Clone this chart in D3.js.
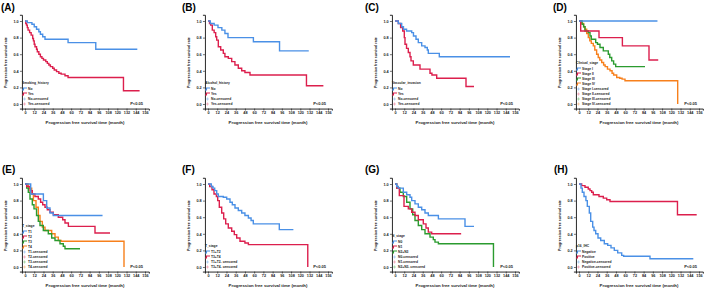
<!DOCTYPE html>
<html>
<head>
<meta charset="utf-8">
<script src="https://cdn.jsdelivr.net/npm/d3@7"></script>
<style>
  body { margin: 0; background: #fff; }
  svg { display: block; font-family: "Liberation Sans", Arial, sans-serif; }
</style>
</head>
<body>
<div id="chart"></div>
<script>
// ---- survival curves, [month, survival rate] ----
const smokingNo  = [[0,1],[3,0.98],[9,0.96],[12,0.93],[15,0.9],[18,0.87],[20,0.84],[23,0.81],[26,0.78],[56,0.74],[92,0.66],[146,0.66]];
const smokingYes = [[0,1],[1,0.97],[2,0.95],[3,0.92],[4,0.89],[6,0.86],[8,0.83],[10,0.79],[11,0.76],[12,0.72],[13,0.69],[15,0.66],[16,0.63],[18,0.6],[20,0.57],[22,0.55],[24,0.53],[27,0.51],[29,0.49],[31,0.47],[33,0.45],[36,0.43],[38,0.41],[41,0.39],[44,0.37],[47,0.36],[52,0.34],[56,0.32],[128,0.16],[149,0.16]];

const alcoholNo  = [[0,1],[3,0.97],[8,0.95],[13,0.92],[18,0.89],[22,0.85],[26,0.8],[59,0.75],[93,0.64],[131,0.64]];
const alcoholYes = [[0,1],[2,0.97],[3.5,0.95],[5.6,0.89],[8,0.86],[10,0.81],[11.3,0.77],[13.4,0.69],[16.5,0.65],[19.9,0.61],[22,0.57],[26.4,0.55],[30.8,0.51],[35,0.47],[39.4,0.43],[43.8,0.4],[48,0.38],[54.6,0.35],[128,0.22],[150,0.22]];

const vascularNo  = [[0,1],[4.3,0.97],[8.7,0.93],[11,0.9],[15,0.88],[21.7,0.86],[24,0.82],[27.3,0.78],[30.3,0.74],[34.7,0.7],[39,0.68],[42,0.65],[43.3,0.61],[57.6,0.57],[149.5,0.57]];
const vascularYes = [[0,1],[4.3,0.97],[7.3,0.92],[10,0.88],[12.1,0.8],[13,0.72],[15,0.67],[17.3,0.62],[19.5,0.57],[20.8,0.52],[23.8,0.47],[32.5,0.42],[45.5,0.37],[48,0.35],[54.2,0.31],[92.3,0.21],[102.7,0.21]];

const stageI   = [[0,1],[102,1]];
const stageII  = [[0,1],[2.2,0.88],[26,0.8],[56.4,0.7],[91,0.53],[103,0.53]];
const stageIII = [[0,1],[4,0.96],[6,0.93],[7.8,0.88],[12,0.86],[14.3,0.82],[16,0.78],[21.7,0.74],[24,0.72],[27.3,0.68],[31.6,0.64],[38.1,0.6],[40,0.56],[42.5,0.52],[45,0.48],[47.7,0.45],[85.8,0.45]];
const stageIV  = [[0,1],[3.5,0.97],[6,0.93],[7.8,0.9],[10,0.85],[12.1,0.8],[14,0.76],[16,0.73],[18.6,0.7],[20.5,0.65],[22.9,0.6],[25,0.56],[27,0.53],[29.5,0.5],[32,0.47],[34,0.45],[37,0.42],[40.3,0.4],[43,0.37],[45,0.35],[49,0.32],[53,0.31],[56,0.3],[59.8,0.28],[128.3,0]];

const tStage1 = [[0,1],[7.4,0.88],[23.9,0.8],[28.2,0.71],[32.5,0.65],[36.8,0.62],[100.8,0.62]];
const tStage2 = [[0,1],[2.2,0.97],[6.5,0.92],[9.5,0.88],[12.9,0.85],[17.3,0.82],[20.3,0.78],[23,0.75],[26,0.72],[29,0.69],[32.5,0.66],[36.8,0.63],[43.3,0.6],[49,0.57],[52,0.53],[56.4,0.49],[91,0.41],[110.5,0.41]];
const tStage3 = [[0,1],[2.2,0.95],[4.3,0.9],[6.5,0.82],[9.5,0.75],[11.7,0.7],[15,0.62],[17.3,0.55],[19.5,0.5],[23.8,0.44],[30.3,0.4],[34.7,0.35],[39,0.32],[45.5,0.28],[49.8,0.25],[52,0.22],[71.5,0.22]];
const tStage4 = [[0,1],[4.3,0.95],[8.7,0.88],[10.9,0.8],[14.3,0.72],[17.3,0.62],[19.5,0.55],[22.5,0.48],[26,0.44],[34.7,0.4],[39,0.36],[43.3,0.32],[47,0.31],[128.7,0]];

const tEarly = [[0,1],[4.3,0.97],[6.5,0.95],[8.7,0.92],[11.3,0.88],[13.4,0.85],[19.9,0.84],[24.3,0.82],[28.6,0.78],[31.6,0.75],[35.1,0.71],[39.4,0.68],[43.8,0.65],[48,0.62],[52.5,0.59],[56,0.56],[58.9,0.52],[92.7,0.45],[111,0.45]];
const tLate  = [[0,1],[2.2,0.97],[5.2,0.93],[7.8,0.88],[10.9,0.85],[12.6,0.8],[14.7,0.72],[17.8,0.65],[20.4,0.58],[23,0.52],[26.4,0.47],[30.8,0.43],[34.2,0.39],[37.3,0.35],[41.6,0.31],[48,0.29],[52.5,0.27],[129.7,0]];

const nStage0  = [[0,1],[2.2,0.97],[4.3,0.95],[10.8,0.9],[15.2,0.87],[19.5,0.84],[21.7,0.8],[26,0.76],[30.3,0.72],[34.7,0.69],[39,0.65],[43.3,0.62],[56.4,0.58],[91,0.49],[102.7,0.49]];
const nStage1  = [[0,1],[2.2,0.95],[5.6,0.86],[11.7,0.73],[17.3,0.7],[21.7,0.66],[26,0.62],[30.3,0.57],[36.8,0.52],[40.3,0.47],[43.3,0.42],[47.7,0.4],[86,0.4]];
const nStage23 = [[0,1],[2.2,0.95],[6.5,0.9],[10.8,0.85],[15.2,0.78],[19.5,0.7],[23,0.63],[26,0.56],[30.3,0.5],[34.7,0.45],[39,0.4],[45.5,0.36],[49.8,0.33],[52,0.3],[56.4,0.28],[128,0]];

const p16Neg = [[0,1],[2.6,0.95],[4.3,0.9],[6.5,0.85],[9,0.8],[10.8,0.73],[13.4,0.65],[15.2,0.55],[17.8,0.48],[19.5,0.44],[21.7,0.4],[24.7,0.35],[28.2,0.32],[32.9,0.28],[37.3,0.26],[41.6,0.23],[45.9,0.2],[50.3,0.17],[55.5,0.14],[58,0.13],[92.3,0.1],[148.6,0.1]];
const p16Pos = [[0,1],[3.5,0.98],[7.8,0.96],[12,0.94],[14.3,0.92],[16.5,0.9],[18.6,0.87],[26,0.85],[31.6,0.83],[36,0.81],[40.3,0.79],[128,0.63],[153,0.63]];

// ---- labels ----
const panelTags    = ["(A)","(B)","(C)","(D)","(E)","(F)","(G)","(H)"];
const legendTitles = ["Smoking_history","Alcohol_history","Vascular_invasion","Clinical_stage","T_stage","T_stage","N_stage","p16_IHC"];
const groupNames = [
  ["No","Yes"], ["No","Yes"], ["No","Yes"],
  ["Stage I","Stage II","Stage III","Stage IV"],
  ["T1","T2","T3","T4"],
  ["T1+T2","T3+T4"],
  ["N0","N1","N2+N3"],
  ["Negative","Positive"]
];
const censoredNames = [
  ["No-censored","Yes-censored"], ["No-censored","Yes-censored"], ["No-censored","Yes-censored"],
  ["Stage I-censored","Stage II-censored","Stage III-censored","Stage IV-censored"],
  ["T1-censored","T2-censored","T3-censored","T4-censored"],
  ["T1+T2- censored","T3+T4- censored"],
  ["N0-censored","N1-censored","N2+N3- censored"],
  ["Negative-censored","Positive-censored"]
];
const panelCurves = [
  [smokingNo, smokingYes], [alcoholNo, alcoholYes], [vascularNo, vascularYes],
  [stageI, stageII, stageIII, stageIV],
  [tStage1, tStage2, tStage3, tStage4],
  [tEarly, tLate],
  [nStage0, nStage1, nStage23],
  [p16Neg, p16Pos]
];
const pLabel = "P<0.05";
const xTicks = [0,12,24,36,48,60,72,84,96,108,120,132,144,156];
const yTicks = [0,0.2,0.4,0.6,0.8,1.0];

// ---- look ----
const lineColors = ["#4a90e6","#dc1f4d","#2b9b2f","#f7801c"];
const censColors = ["#9fc5f2","#ef9bb0","#95cf96","#f8c08f"];

// x of month 0, y of rate 1.0, and where the (A) tag sits
const layout = [
  {x0: 25,  y1: 21,  tx: 1,   ty: 11},
  {x0: 208, y1: 21,  tx: 182, ty: 11},
  {x0: 395, y1: 21,  tx: 365, ty: 11},
  {x0: 579, y1: 21,  tx: 553, ty: 11},
  {x0: 25,  y1: 184, tx: 2,   ty: 173},
  {x0: 208, y1: 184, tx: 182, ty: 173},
  {x0: 395, y1: 184, tx: 365, ty: 173},
  {x0: 579, y1: 184, tx: 554, ty: 173}
];

const W = 709, H = 288;
const svg = d3.select("#chart").append("svg")
  .attr("width", W).attr("height", H)
  .attr("viewBox", `0 0 ${W} ${H}`);

function drawPanel(i) {
  const L = layout[i];
  const y0 = L.y1 + 83;
  const x = d3.scaleLinear().domain([0, 156]).range([L.x0, L.x0 + 120]);
  const y = d3.scaleLinear().domain([0, 1]).range([y0, L.y1]);
  // axis lines run a little past the data, like the SPSS frame
  const xa = x.copy().domain([-4, 161]).range([x(-4), x(161)]);
  const ya = y.copy().domain([-0.055, 1.075]).range([y(-0.055), y(1.075)]);

  const g = svg.append("g");

  g.append("text")
    .attr("x", L.tx).attr("y", L.ty)
    .attr("font-size", 10).attr("font-weight", "bold")
    .text(panelTags[i]);

  const gx = g.append("g")
    .attr("transform", `translate(0,${ya(-0.055)})`)
    .call(d3.axisBottom(xa).tickValues(xTicks).tickSize(2).tickPadding(1.2).tickFormat(d3.format("d")));
  const gy = g.append("g")
    .attr("transform", `translate(${xa(-4)},0)`)
    .call(d3.axisLeft(ya).tickValues(yTicks).tickSize(2).tickPadding(1.2).tickFormat(d3.format(".1f")));
  [gx, gy].forEach(a => {
    a.attr("font-size", null).attr("font-family", null);
    a.selectAll("path.domain").attr("stroke", "#111").attr("stroke-width", 0.9);
    a.selectAll(".tick line").attr("stroke", "#111").attr("stroke-width", 0.6);
    a.selectAll(".tick text").attr("font-size", 3.8).attr("font-weight", "bold").attr("fill", "#222");
  });

  g.append("text")
    .attr("x", x(78)).attr("y", y0 + 20)
    .attr("text-anchor", "middle")
    .attr("font-size", 4.3).attr("font-weight", "bold").attr("fill", "#222")
    .text("Progression free survival time (month)");

  g.append("text")
    .attr("transform", `translate(${L.x0 - 18},${(y0 + L.y1) / 2}) rotate(-90)`)
    .attr("text-anchor", "middle")
    .attr("font-size", 3.6).attr("font-weight", "bold").attr("fill", "#222")
    .text("Progression free survival rate");

  const line = d3.line()
    .x(d => x(d[0])).y(d => y(d[1]))
    .curve(d3.curveStepAfter);

  // draw later groups first so the first group stays on top, as in the figure
  panelCurves[i].map((c, k) => [c, k]).reverse().forEach(([c, k]) => {
    g.append("path")
      .datum(c)
      .attr("d", line)
      .attr("fill", "none")
      .attr("stroke", lineColors[k])
      .attr("stroke-width", 1.4);
  });

  g.append("text")
    .attr("x", L.x0 + 118).attr("y", y0 + 1)
    .attr("text-anchor", "end")
    .attr("font-size", 4).attr("font-weight", "bold").attr("fill", "#222")
    .text(pLabel);

  // legend, stacked up from the 0.0 line
  const groups = groupNames[i], cens = censoredNames[i];
  const rows = groups.length + cens.length;
  const step = 5;
  const rowY = r => y0 - (rows - 1 - r) * step;
  const lx = L.x0 - 3;
  const leg = g.append("g").attr("font-size", 3.3).attr("font-weight", "bold").attr("fill", "#222");

  leg.append("text")
    .attr("x", lx).attr("y", rowY(0) - 6 + 1.1)
    .text(legendTitles[i]);

  groups.forEach((name, k) => {
    const cy = rowY(k);
    leg.append("path")
      .attr("d", `M${lx},${cy + 1}H${lx + 1.5}V${cy - 1}H${lx + 5}`)
      .attr("fill", "none").attr("stroke", lineColors[k]).attr("stroke-width", 1.1);
    leg.append("text").attr("x", lx + 6).attr("y", cy + 1.1).text(name);
  });
  cens.forEach((name, k) => {
    const cy = rowY(groups.length + k);
    leg.append("path")
      .attr("d", `M${lx + 1},${cy}H${lx + 4}M${lx + 2.5},${cy - 1.5}V${cy + 1.5}`)
      .attr("fill", "none").attr("stroke", censColors[k]).attr("stroke-width", 0.7);
    leg.append("text").attr("x", lx + 6).attr("y", cy + 1.1).text(name);
  });
}

d3.range(8).forEach(drawPanel);
</script>
</body>
</html>
